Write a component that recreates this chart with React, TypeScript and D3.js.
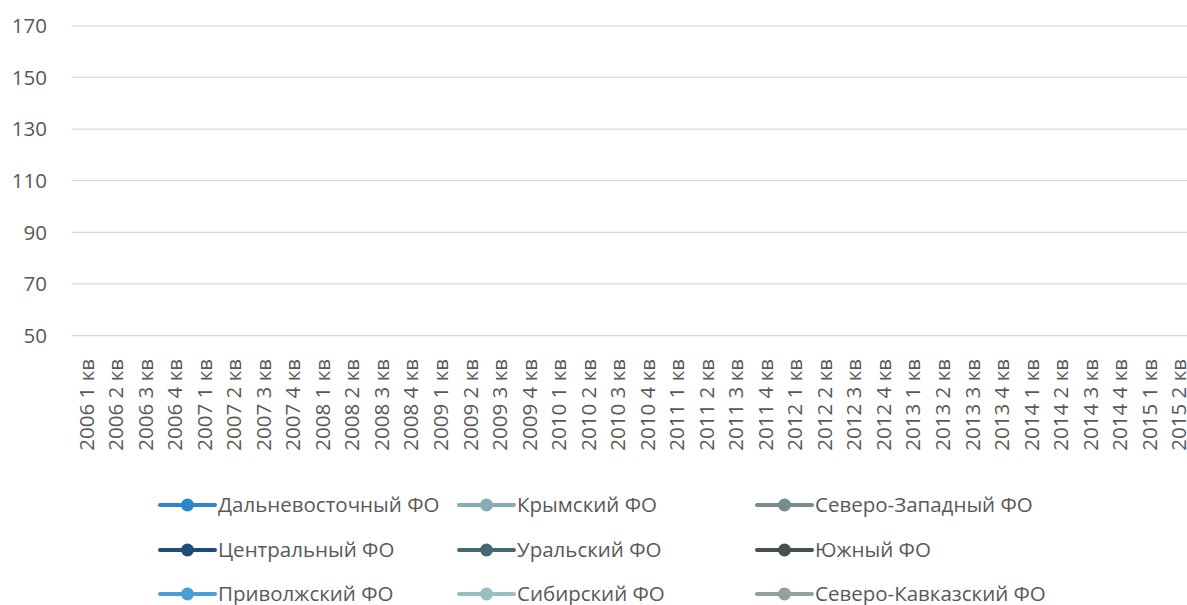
import { useEffect, useRef } from 'react'
import * as d3 from 'd3'

const width = 1187
const height = 605

const years = ['2006', '2007', '2008', '2009', '2010', '2011', '2012', '2013', '2014', '2015']
const quarters = ['1 кв', '2 кв', '3 кв', '4 кв']
const categories = years.flatMap(y => quarters.map(q => `${y} ${q}`)).slice(0, 38)

const yTicks = [50, 70, 90, 110, 130, 150, 170]

const seriesNames = [
  'Дальневосточный ФО', 'Крымский ФО', 'Северо-Западный ФО',
  'Центральный ФО', 'Уральский ФО', 'Южный ФО',
  'Приволжский ФО', 'Сибирский ФО', 'Северо-Кавказский ФО',
]
const seriesColors = [
  '#2e86ca', '#85adb6', '#788c8e',
  '#1b4d78', '#456970', '#454f52',
  '#4a9ddb', '#9bbec5', '#93a0a1',
]
// no values are visible in the chart, every series is empty
const seriesValues: (number | null)[][] = seriesNames.map(() => [])

const App = () => {
  const svgRef = useRef<SVGSVGElement>(null)

  useEffect(() => {
    const svg = d3.select(svgRef.current)
    svg.selectAll('*').remove()

    const font = '"Open Sans", sans-serif'
    const fontSize = '20.5px'
    const textColor = '#595959'

    const x = d3.scaleBand<string>()
      .domain(categories)
      .range([71.7, 1193.8])

    const y = d3.scaleLinear()
      .domain([50, 170])
      .range([335.6, 25.8])

    // gridlines
    svg.append('g')
      .selectAll('line')
      .data(yTicks)
      .join('line')
      .attr('x1', 71.7)
      .attr('x2', width)
      .attr('y1', d => y(d))
      .attr('y2', d => y(d))
      .attr('stroke', '#d9d9d9')
      .attr('stroke-width', 1.3)

    // y labels
    svg.append('g')
      .selectAll('text')
      .data(yTicks)
      .join('text')
      .attr('x', 47)
      .attr('y', d => y(d))
      .attr('dy', '0.35em')
      .attr('text-anchor', 'end')
      .style('font-family', font)
      .style('font-size', fontSize)
      .attr('fill', textColor)
      .text(d => d)

    // x labels, rotated
    svg.append('g')
      .selectAll('text')
      .data(categories)
      .join('text')
      .attr('transform', d => `translate(${x(d)! + x.bandwidth() / 2},359) rotate(-90)`)
      .attr('dy', '0.35em')
      .attr('text-anchor', 'end')
      .style('font-family', font)
      .style('font-size', fontSize)
      .attr('fill', textColor)
      .text(d => d)

    // series lines (empty)
    const line = d3.line<number | null>()
      .defined(d => d != null)
      .x((_, i) => x(categories[i])! + x.bandwidth() / 2)
      .y(d => y(d as number))

    svg.append('g')
      .selectAll('path')
      .data(seriesValues)
      .join('path')
      .attr('fill', 'none')
      .attr('stroke', (_, i) => seriesColors[i])
      .attr('stroke-width', 4)
      .attr('d', d => line(d))

    // legend
    const legendX = d3.scaleOrdinal<number, number>().domain([0, 1, 2]).range([160, 459, 757])
    const legendY = d3.scaleOrdinal<number, number>().domain([0, 1, 2]).range([505, 550, 594])

    const item = svg.append('g')
      .selectAll('g')
      .data(seriesNames)
      .join('g')
      .attr('transform', (_, i) => `translate(${legendX(i % 3)},${legendY(Math.floor(i / 3))})`)

    item.append('line')
      .attr('x1', 0)
      .attr('x2', 55)
      .attr('stroke', (_, i) => seriesColors[i])
      .attr('stroke-width', 4)
      .attr('stroke-linecap', 'round')

    item.append('circle')
      .attr('cx', 27.5)
      .attr('r', 6.5)
      .attr('fill', (_, i) => seriesColors[i])

    item.append('text')
      .attr('x', 58)
      .attr('dy', '0.35em')
      .style('font-family', font)
      .style('font-size', fontSize)
      .attr('fill', textColor)
      .text(d => d)
  }, [])

  return (
    <svg
      ref={svgRef}
      width={width}
      height={height}
      style={{ position: 'absolute', left: 0, top: 0, background: '#fff' }}
    ></svg>
  )
}

export default App
